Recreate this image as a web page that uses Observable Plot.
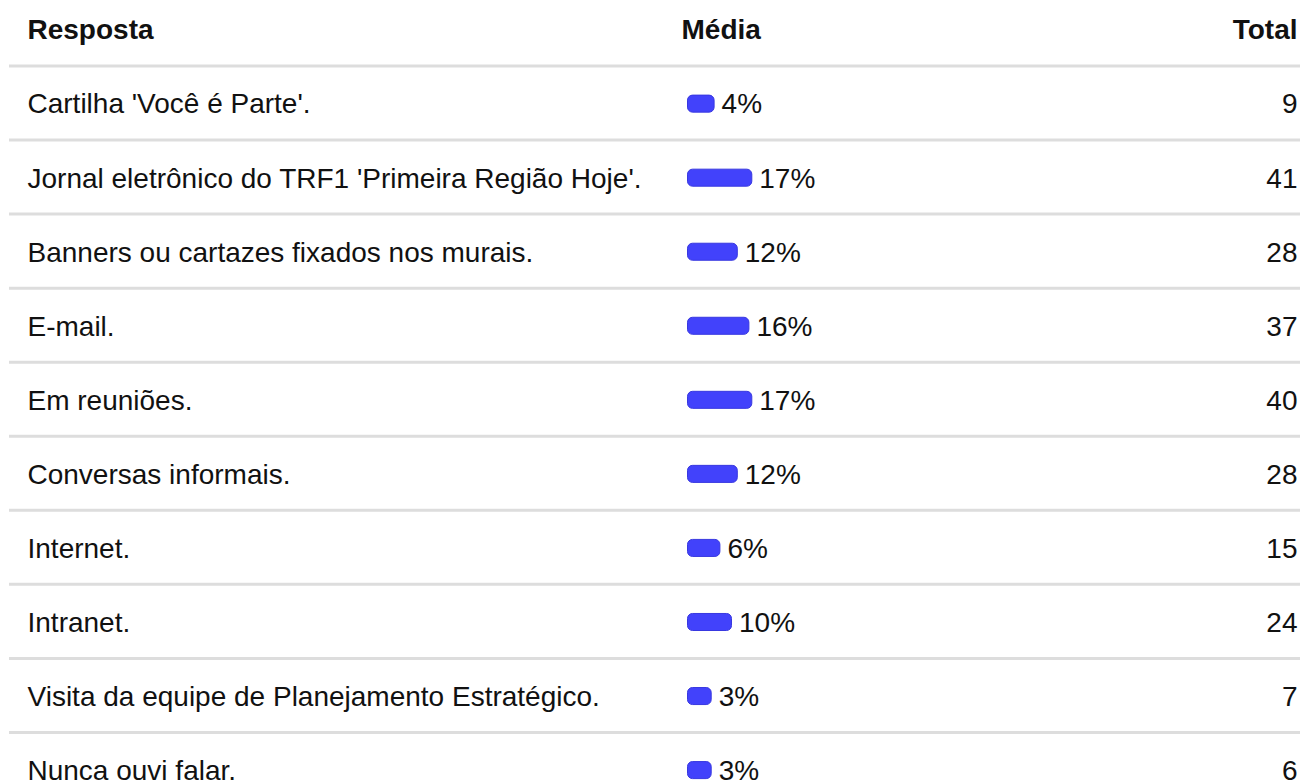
<!DOCTYPE html>
<html>
<head>
<meta charset="utf-8">
<script src="https://cdn.jsdelivr.net/npm/d3@7"></script>
<script src="https://cdn.jsdelivr.net/npm/@observablehq/plot@0.6"></script>
<style>
  html, body { margin: 0; padding: 0; background: #fff; overflow: hidden; }
  #chart svg { display: block; }
</style>
</head>
<body>
<div id="chart"></div>
<script>
const answers = [
  "Cartilha 'Você é Parte'.",
  "Jornal eletrônico do TRF1 'Primeira Região Hoje'.",
  "Banners ou cartazes fixados nos murais.",
  "E-mail.",
  "Em reuniões.",
  "Conversas informais.",
  "Internet.",
  "Intranet.",
  "Visita da equipe de Planejamento Estratégico.",
  "Nunca ouvi falar."
];
const percents = [4, 17, 12, 16, 17, 12, 6, 10, 3, 3];
const totals = [9, 41, 28, 37, 40, 28, 15, 24, 7, 6];
const headers = ["Resposta", "Média", "Total"];

const rows = answers.map((a, i) => ({answer: a, pct: percents[i], total: totals[i], i}));

const font = "Arial, 'Liberation Sans', sans-serif";
const fs = 28;

const chart = Plot.plot({
  width: 1300,
  height: 810,
  marginTop: 66,
  marginBottom: 4,
  marginLeft: 27,
  marginRight: 3,
  style: {fontFamily: font, fontSize: fs + "px", color: "#111", background: "#fff"},
  x: {domain: [0, 100], range: [702.5, 992.5], axis: null},
  y: {domain: [-0.5, 9.5], range: [65.5, 806], axis: null},
  marks: [
    // separators
    Plot.ruleY(rows, {y: d => d.i - 0.5, stroke: "#dddddd", strokeWidth: 3, insetLeft: -18, insetRight: -3}),
    // header row
    Plot.text([headers[0]], {y: () => -1, frameAnchor: "left", textAnchor: "start", text: d => d, fontWeight: "bold", fontSize: fs, fill: "#111", dy: 1.5}),
    Plot.text([headers[1]], {x: () => 0, y: () => -1, textAnchor: "start", text: d => d, fontWeight: "bold", fontSize: fs, fill: "#111", dx: -21.5, dy: 1.5}),
    Plot.text([headers[2]], {y: () => -1, frameAnchor: "right", textAnchor: "end", text: d => d, fontWeight: "bold", fontSize: fs, fill: "#111", dy: 1.5}),
    // answer labels
    Plot.text(rows, {y: "i", text: "answer", frameAnchor: "left", textAnchor: "start", fontSize: fs, fill: "#111", dy: 1.5}),
    // bars
    Plot.rect(rows, {x1: () => 0, x2: "pct", y1: d => d.i - 0.1, y2: d => d.i + 0.13, fill: "#4242fb", stroke: "#3838e0", strokeWidth: 1, rx: 5, insetLeft: -15}),
    // percent labels
    Plot.text(rows, {x: "pct", y: "i", text: d => d.pct + "%", textAnchor: "start", fontSize: fs, fill: "#111", dx: 7, dy: 1.5}),
    // totals
    Plot.text(rows, {y: "i", text: "total", frameAnchor: "right", textAnchor: "end", fontSize: fs, fill: "#111", dy: 1.5})
  ]
});
document.getElementById("chart").appendChild(chart);
</script>
</body>
</html>
